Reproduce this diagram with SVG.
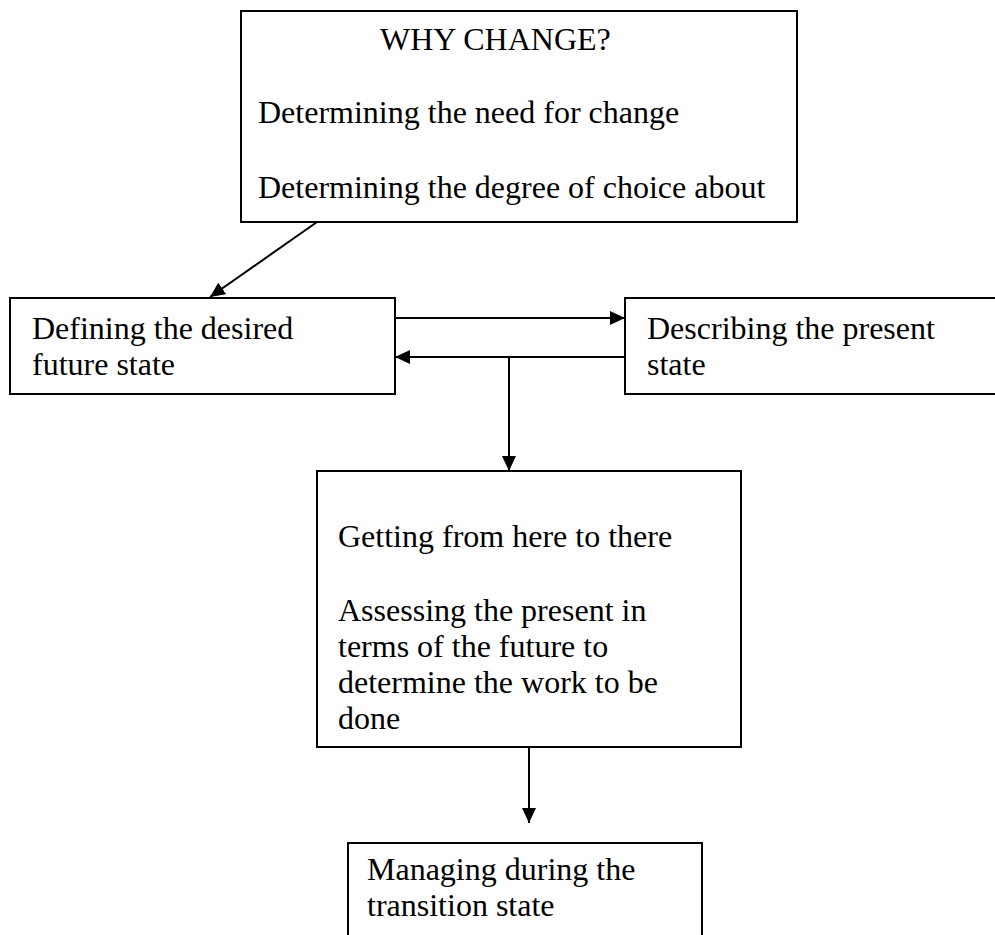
<svg xmlns="http://www.w3.org/2000/svg" width="995" height="935" viewBox="0 0 995 935">
<defs>
<style>
.box{fill:#fff;stroke:#000;stroke-width:2}
.t{font-family:"Liberation Serif","Times New Roman",serif;font-size:32px;fill:#000}
.c{stroke:#000;stroke-width:2;fill:none}
</style>
<marker id="ah" markerWidth="15" markerHeight="14" viewBox="0 0 15 14" refX="15" refY="7" orient="auto" markerUnits="userSpaceOnUse">
<path d="M0,0 L15,7 L0,14 Z" fill="#000"/>
</marker>
</defs>
<rect width="995" height="935" fill="#fff"/>
<g id="why">
<rect class="box" x="241" y="11" width="556" height="211"/>
<text class="t" x="380" y="50">WHY CHANGE?</text>
<text class="t" x="258" y="123">Determining the need for change</text>
<text class="t" x="258" y="198">Determining the degree of choice about</text>
</g>
<g id="future">
<rect class="box" x="10" y="298" width="385" height="96"/>
<text class="t" x="32" y="339">Defining the desired</text>
<text class="t" x="32" y="375">future state</text>
</g>
<g id="present">
<rect class="box" x="625" y="298" width="400" height="96"/>
<text class="t" x="647" y="339">Describing the present</text>
<text class="t" x="647" y="375">state</text>
</g>
<g id="getting">
<rect class="box" x="317" y="471" width="424" height="276"/>
<text class="t" x="338" y="547">Getting from here to there</text>
<text class="t" x="338" y="621">Assessing the present in</text>
<text class="t" x="338" y="657">terms of the future to</text>
<text class="t" x="338" y="693">determine the work to be</text>
<text class="t" x="338" y="729">done</text>
</g>
<g id="managing">
<rect class="box" x="348" y="843" width="354" height="110"/>
<text class="t" x="367" y="880">Managing during the</text>
<text class="t" x="367" y="916">transition state</text>
</g>
<g id="connectors">
<line class="c" x1="317" y1="222" x2="210" y2="297" marker-end="url(#ah)"/>
<line class="c" x1="395" y1="318" x2="625" y2="318" marker-end="url(#ah)"/>
<line class="c" x1="625" y1="357" x2="395" y2="357" marker-end="url(#ah)"/>
<line class="c" x1="509" y1="357" x2="509" y2="471" marker-end="url(#ah)"/>
<line class="c" x1="529" y1="747" x2="529" y2="823" marker-end="url(#ah)"/>
</g>
</svg>
